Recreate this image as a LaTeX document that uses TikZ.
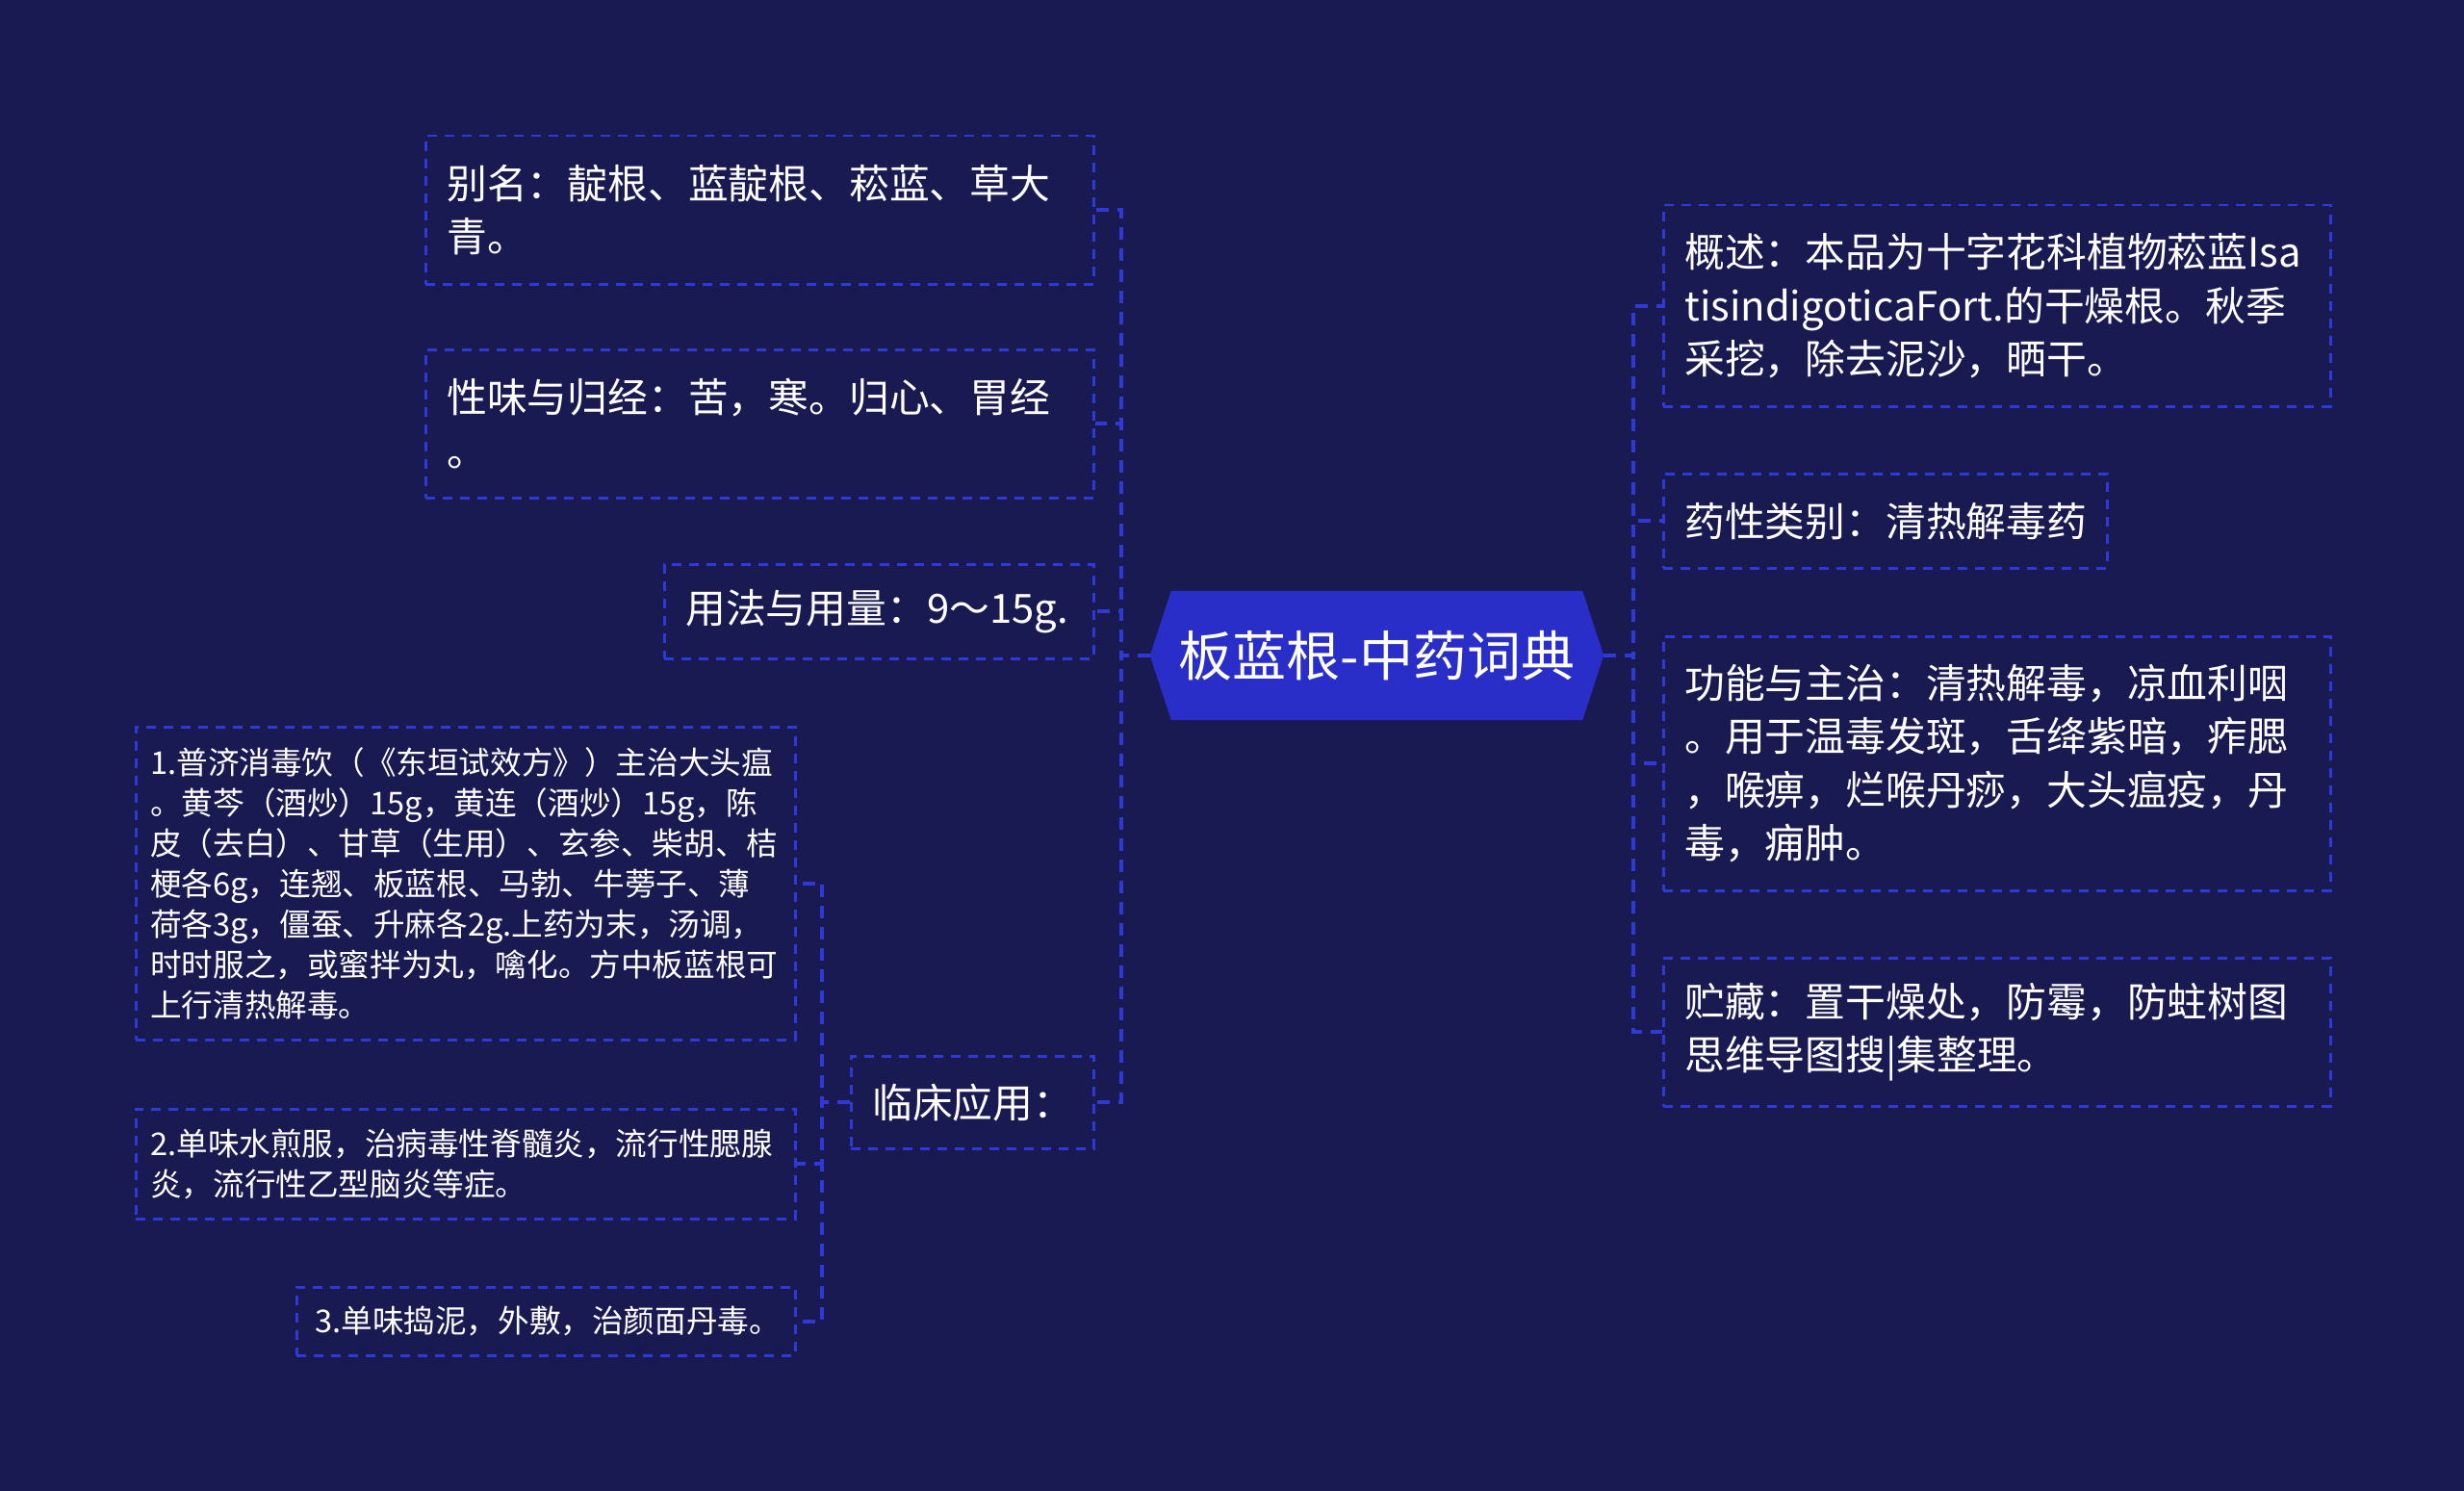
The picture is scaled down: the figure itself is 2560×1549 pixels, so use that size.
\documentclass[tikz,border=0pt]{standalone}
\usepackage{fontspec}
\setmainfont{Noto Sans CJK SC}
\usetikzlibrary{backgrounds,calc}
\definecolor{bgc}{HTML}{1A1A52}
\definecolor{linec}{HTML}{3038D6}
\definecolor{hexc}{HTML}{2A2EC8}
\tikzset{
  box/.style={draw=linec, line width=2.5pt, dash pattern=on 10pt off 8pt,
    anchor=north west, align=left, text=white, inner xsep=22pt, inner ysep=0pt,
    font=\fontsize{41.8}{55.5}\selectfont},
  smallbox/.style={box, inner xsep=15pt, font=\fontsize{32.6}{42}\selectfont},
  conn/.style={draw=linec, line width=4pt, dash pattern=on 13pt off 9pt},
  rootn/.style={inner sep=0pt, text=white, font=\fontsize{56}{64}\selectfont},
}
\begin{document}
\begin{tikzpicture}[x=1pt,y=-1pt]
\useasboundingbox (0,0) rectangle (2560,1549);
% root
\node[rootn, minimum width=471pt, minimum height=134pt] (root) at (1430.5,681) {板蓝根-中药词典};
% left branch
\node[box, text width=650pt, minimum height=154pt] (A) at (441,140) {别名：靛根、蓝靛根、菘蓝、草大\\青。};
\node[box, text width=650pt, minimum height=154pt] (B) at (441,362) {性味与归经：苦，寒。归心、胃经\\。};
\node[box, text width=402pt, minimum height=98pt] (C) at (689,585) {用法与用量：9～15g.};
\node[box, text width=208pt, minimum height=96pt] (D) at (883,1096) {临床应用：};
\node[smallbox, text width=655pt, minimum height=325pt] (D1) at (140,754) {1.普济消毒饮（《东垣试效方》）主治大头瘟\\。黄芩（酒炒）15g，黄连（酒炒）15g，陈\\皮（去白）、甘草（生用）、玄参、柴胡、桔\\梗各6g，连翘、板蓝根、马勃、牛蒡子、薄\\荷各3g，僵蚕、升麻各2g.上药为末，汤调，\\时时服之，或蜜拌为丸，噙化。方中板蓝根可\\上行清热解毒。};
\node[smallbox, text width=655pt, minimum height=114pt] (D2) at (140,1151) {2.单味水煎服，治病毒性脊髓炎，流行性腮腺\\炎，流行性乙型脑炎等症。};
\node[smallbox, inner xsep=19pt, text width=480pt, minimum height=71pt] (D3) at (307,1336) {3.单味捣泥，外敷，治颜面丹毒。};
% right branch
\node[box, text width=649pt, minimum height=209pt] (R1) at (1727,212) {概述：本品为十字花科植物菘蓝Isa\\tisindigoticaFort.的干燥根。秋季\\采挖，除去泥沙，晒干。};
\node[box, text width=417pt, minimum height=98pt] (R2) at (1727,491) {药性类别：清热解毒药};
\node[box, text width=649pt, minimum height=264pt] (R3) at (1727,660) {功能与主治：清热解毒，凉血利咽\\。用于温毒发斑，舌绛紫暗，痄腮\\，喉痹，烂喉丹痧，大头瘟疫，丹\\毒，痈肿。};
\node[box, text width=649pt, minimum height=154pt] (R4) at (1727,994) {贮藏：置干燥处，防霉，防蛀树图\\思维导图搜|集整理。};
% connectors
\foreach \n in {A,B,C,D} {\draw[conn] (root.west) -- ++(-30,0) |- (\n.east);}
\foreach \n in {D1,D2,D3} {\draw[conn] (D.west) -- ++(-29,0) |- (\n.east);}
\foreach \n in {R1,R2,R3,R4} {\draw[conn] (root.east) -- ++(31,0) |- (\n.west);}
\begin{scope}[on background layer]
\fill[bgc] (0,0) rectangle (2560,1549);
\fill[hexc] (root.west) -- ([xshift=22pt]root.north west) -- ([xshift=-22pt]root.north east)
  -- (root.east) -- ([xshift=-22pt]root.south east) -- ([xshift=22pt]root.south west) -- cycle;
\end{scope}
\end{tikzpicture}
\end{document}
